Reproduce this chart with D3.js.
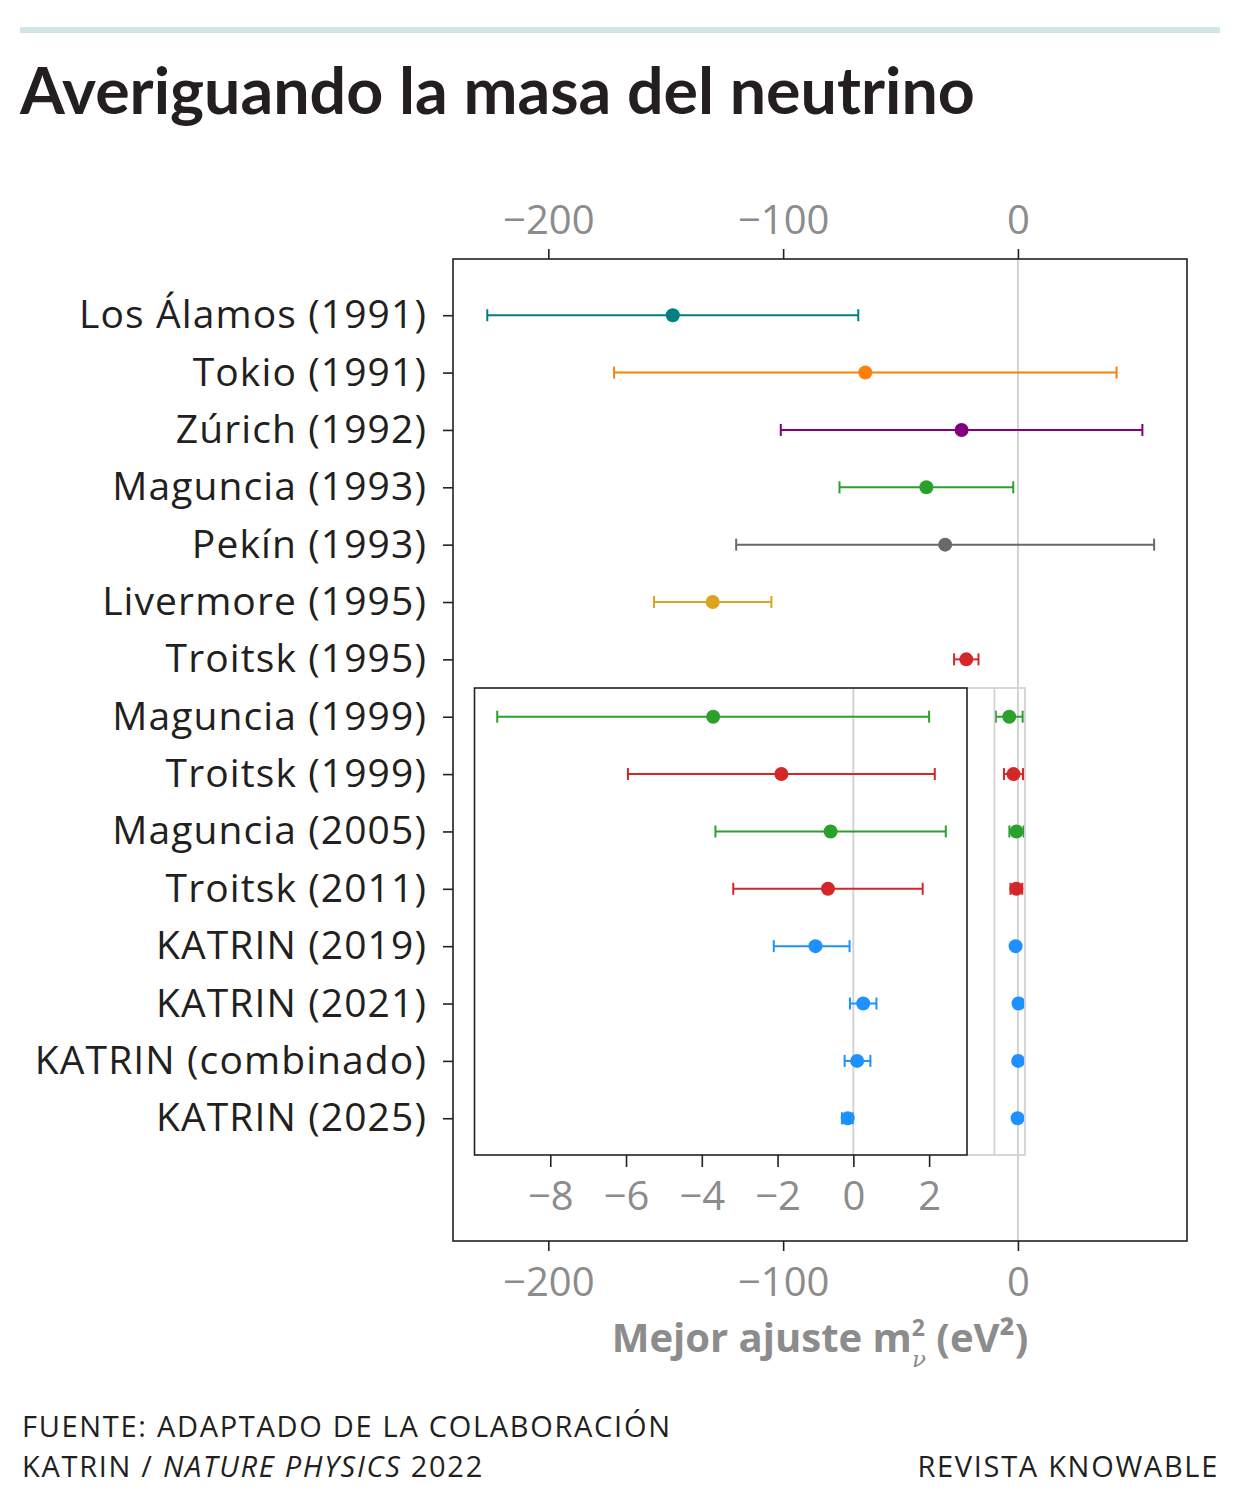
<!DOCTYPE html>
<html>
<head>
<meta charset="utf-8">
<script src="https://cdn.jsdelivr.net/npm/d3@7"></script>
<style>
  body { margin: 0; background: #fff; }
  text { font-family: "Open Sans", "Noto Sans", sans-serif; }
</style>
</head>
<body>
<div id="chart"></div>
<script>
// data (m_nu^2 best fit, eV^2)
const labels = ["Los Álamos (1991)", "Tokio (1991)", "Zúrich (1992)", "Maguncia (1993)", "Pekín (1993)",
  "Livermore (1995)", "Troitsk (1995)", "Maguncia (1999)", "Troitsk (1999)", "Maguncia (2005)",
  "Troitsk (2011)", "KATRIN (2019)", "KATRIN (2021)", "KATRIN (combinado)", "KATRIN (2025)"];
const centers = [-147, -65, -24, -39, -31, -130, -22, -3.7, -1.9, -0.6, -0.67, -1.0, 0.26, 0.1, -0.15];
const errMinus = [79, 107, 77, 37, 89, 25, 5.2, 5.7, 4.05, 3.04, 2.5, 1.1, 0.35, 0.33, 0.15];
const errPlus  = [79, 107, 77, 37, 89, 25, 5.2, 5.7, 4.05, 3.04, 2.5, 0.9, 0.35, 0.35, 0.13];
const colors = ["#008080", "#ff7f0e", "#800080", "#2ca02c", "#696969", "#daa520", "#d62728", "#2ca02c",
  "#d62728", "#2ca02c", "#d62728", "#1e90ff", "#1e90ff", "#1e90ff", "#1e90ff"];
const mainTicks = [-200, -100, 0];
const insetTicks = [-8, -6, -4, -2, 0, 2];
const insetFirst = 7;          // rows from here on are repeated in the zoom box
const zoomRange = [-10, 3];

const data = labels.map((d, i) => ({
  name: d, i: i, v: centers[i], lo: centers[i] - errMinus[i], hi: centers[i] + errPlus[i], c: colors[i]
}));

const W = 1240, H = 1502;
const svg = d3.select("#chart").append("svg")
  .attr("width", W).attr("height", H);
svg.append("rect").attr("width", W).attr("height", H).attr("fill", "#fff");

// top rule + title
svg.append("rect").attr("x", 20).attr("y", 27).attr("width", 1200).attr("height", 6).attr("fill", "#cfe6e5");
const title = svg.append("text")
  .attr("x", 20).attr("y", 114)
  .attr("fill", "#231f20").style("font-family", "Lato").style("font-weight", 700).style("font-size", "50px")
  .text("Averiguando la masa del neutrino");
const tw = title.node().getComputedTextLength();
title.style("font-size", (50 * 955 / tw) + "px");

//////////
// MAIN AXES
//////////
const box = {left: 453, top: 259, right: 1187, bottom: 1241};
const x = d3.scaleLinear().domain([-240.6, 72]).range([box.left, box.right]);
const y = d3.scaleLinear().domain([-0.98, 16.14]).range([box.top, box.bottom]);

const gray = "#8c8c8c", ink = "#231f20";

// zero line
svg.append("line")
  .attr("x1", x(0)).attr("x2", x(0)).attr("y1", box.top).attr("y2", box.bottom)
  .attr("stroke", "#d3d3d3").attr("stroke-width", 2);

function drawBars(g, xs, ys, rows, r) {
  const grp = g.selectAll(null).data(rows).join("g");
  grp.append("line")
    .attr("x1", d => xs(d.lo)).attr("x2", d => xs(d.hi))
    .attr("y1", d => ys(d.i)).attr("y2", d => ys(d.i))
    .attr("stroke", d => d.c).attr("stroke-width", 2);
  grp.selectAll(".cap").data(d => [[d.lo, d], [d.hi, d]]).join("line")
    .attr("x1", e => xs(e[0])).attr("x2", e => xs(e[0]))
    .attr("y1", e => ys(e[1].i) - 6).attr("y2", e => ys(e[1].i) + 6)
    .attr("stroke", e => e[1].c).attr("stroke-width", 2);
  grp.append("circle")
    .attr("cx", d => xs(d.v)).attr("cy", d => ys(d.i)).attr("r", r)
    .attr("fill", d => d.c);
}
drawBars(svg, x, y, data, 7);

// frame
svg.append("rect")
  .attr("x", box.left).attr("y", box.top)
  .attr("width", box.right - box.left).attr("height", box.bottom - box.top)
  .attr("fill", "none").attr("stroke", "#222").attr("stroke-width", 1.6);

function styleAxis(g, size, col) {
  g.select(".domain").remove();
  g.selectAll(".tick line").attr("stroke", "#222").attr("stroke-width", 1.6);
  g.selectAll(".tick text").attr("fill", col).style("font-size", size + "px").style("font-family", "Open Sans");
}

svg.append("g").attr("transform", `translate(0,${box.top})`)
  .call(d3.axisTop(x).tickValues(mainTicks).tickSize(10).tickPadding(15))
  .call(g => styleAxis(g, 40, gray));
svg.append("g").attr("transform", `translate(0,${box.bottom})`)
  .call(d3.axisBottom(x).tickValues(mainTicks).tickSize(10).tickPadding(17))
  .call(g => styleAxis(g, 40, gray));
svg.append("g").attr("transform", `translate(${box.left},0)`)
  .call(d3.axisLeft(y).tickValues(d3.range(labels.length)).tickFormat(i => labels[i]).tickSize(10).tickPadding(16))
  .call(g => styleAxis(g, 39, ink))
  .call(g => g.selectAll(".tick text").style("letter-spacing", "1.1px"));

//////////
// ZOOM INSET
//////////
const ib = {left: 474.5, top: 688, right: 967, bottom: 1155};
const xi = d3.scaleLinear().domain(zoomRange).range([ib.left, ib.right]);
const yi = d3.scaleLinear().domain([6.5, 14.64]).range([ib.top, ib.bottom]);

// indicator rectangle on the main axes + connectors
const lite = "#d3d3d3";
svg.append("rect")
  .attr("x", x(zoomRange[0])).attr("y", yi.range()[0])
  .attr("width", x(zoomRange[1]) - x(zoomRange[0])).attr("height", ib.bottom - ib.top)
  .attr("fill", "none").attr("stroke", lite).attr("stroke-width", 1.8);
[ib.top, ib.bottom].forEach(yy => {
  svg.append("line").attr("x1", ib.right).attr("x2", x(zoomRange[0]))
    .attr("y1", yy).attr("y2", yy).attr("stroke", lite).attr("stroke-width", 1.8);
});

const inset = svg.append("g");
inset.append("rect")
  .attr("x", ib.left).attr("y", ib.top)
  .attr("width", ib.right - ib.left).attr("height", ib.bottom - ib.top)
  .attr("fill", "#fff");
inset.append("line")
  .attr("x1", xi(0)).attr("x2", xi(0)).attr("y1", ib.top).attr("y2", ib.bottom)
  .attr("stroke", lite).attr("stroke-width", 2);
drawBars(inset, xi, yi, data.filter(d => d.i >= insetFirst), 7);
inset.append("rect")
  .attr("x", ib.left).attr("y", ib.top)
  .attr("width", ib.right - ib.left).attr("height", ib.bottom - ib.top)
  .attr("fill", "none").attr("stroke", "#222").attr("stroke-width", 1.6);
inset.append("g").attr("transform", `translate(0,${ib.bottom})`)
  .call(d3.axisBottom(xi).tickValues(insetTicks).tickSize(12).tickPadding(15))
  .call(g => styleAxis(g, 40, gray));

//////////
// AXIS LABEL + FOOTER
//////////
const xl = svg.append("text")
  .attr("x", (box.left + box.right) / 2).attr("y", 1352)
  .attr("text-anchor", "middle").attr("fill", gray)
  .style("font-weight", 700).style("font-size", "40px");
xl.append("tspan").text("Mejor ajuste m");
xl.append("tspan").attr("dy", -16).style("font-size", "23px").text("2");
xl.append("tspan").attr("dx", -13).attr("dy", 31).style("font-size", "23px")
  .style("font-family", "DejaVu Serif, serif").style("font-style", "italic").style("font-weight", 400).text("ν");
xl.append("tspan").attr("dy", -15).text(" (eV²)");

const foot = {fill: ink, size: "29px", ls: "1.7px"};
svg.append("text").attr("x", 22).attr("y", 1437).attr("fill", foot.fill)
  .style("font-size", foot.size).style("letter-spacing", foot.ls)
  .text("FUENTE: ADAPTADO DE LA COLABORACIÓN");
const f2 = svg.append("text").attr("x", 22).attr("y", 1477).attr("fill", foot.fill)
  .style("font-size", foot.size).style("letter-spacing", foot.ls);
f2.append("tspan").text("KATRIN / ");
f2.append("tspan").style("font-style", "italic").text("NATURE PHYSICS");
f2.append("tspan").text(" 2022");
svg.append("text").attr("x", 1219).attr("y", 1477).attr("text-anchor", "end")
  .attr("fill", foot.fill).style("font-size", foot.size).style("letter-spacing", foot.ls)
  .text("REVISTA KNOWABLE");
</script>
</body>
</html>
